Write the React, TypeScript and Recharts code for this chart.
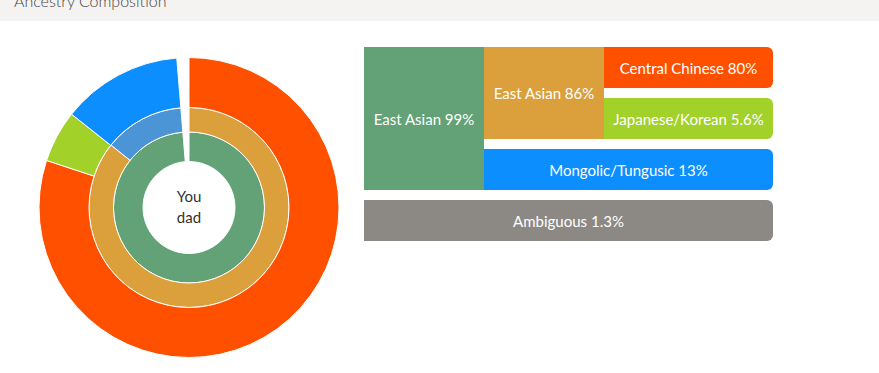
import React from 'react';
import { PieChart, Pie, Cell } from 'recharts';

// rings, inner to outer
const innerNames = ['East Asian', 'Ambiguous'];
const innerValues = [99, 1.3];
const middleNames = ['East Asian', 'Mongolic/Tungusic', 'Ambiguous'];
const middleValues = [86, 13, 1.3];
const outerNames = ['Central Chinese', 'Japanese/Korean', 'Mongolic/Tungusic', 'Ambiguous'];
const outerValues = [80, 5.6, 13, 1.3];

const innerColors = ['#62a276', 'none'];
const middleColors = ['#dba03c', '#4b95d7', 'none'];
const outerColors = ['#ff5000', '#a2d12a', '#0d8eff', 'none'];

const centerLines = ['You', 'dad'];

// breakdown boxes on the right
const boxNames = ['East Asian', 'East Asian', 'Central Chinese', 'Japanese/Korean', 'Mongolic/Tungusic', 'Ambiguous'];
const boxValues = ['99%', '86%', '80%', '5.6%', '13%', '1.3%'];
const boxColors = ['#62a276', '#dba03c', '#ff5000', '#a2d12a', '#0d8eff', '#8c8985'];

const toData = (names: string[], values: number[]) =>
  names.map((name, i) => ({ name, value: values[i] }));

const FONT = 'Lato, "Open Sans", sans-serif';
const CX = 189;
const CY = 207.5;

// grid for the boxes: col starts, rows of 41px with 10px gaps
const colX = [364, 484, 604, 773];
const rowY = (r: number) => 47 + r * 51;
const spanH = (k: number) => k * 41 + (k - 1) * 10;
// [col, row, colSpan, rowSpan] per box
const boxGrid = [
  [0, 0, 1, 3],
  [1, 0, 1, 2],
  [2, 0, 1, 1],
  [2, 1, 1, 1],
  [1, 2, 2, 1],
  [0, 3, 3, 1],
];

function Ring({ names, values, colors, inner, outer }: any) {
  return (
    <Pie
      data={toData(names, values)}
      dataKey="value"
      cx={CX}
      cy={CY}
      innerRadius={inner}
      outerRadius={outer}
      startAngle={90}
      endAngle={-270}
      stroke="#fff"
      strokeWidth={1}
      isAnimationActive={false}
    >
      {colors.map((c: string, i: number) => (
        <Cell key={i} fill={c} stroke={c === 'none' ? 'none' : '#fff'} />
      ))}
    </Pie>
  );
}

export default function App() {
  return (
    <div style={{ position: 'absolute', left: 0, top: 0, width: 879, height: 373, background: '#fff', overflow: 'hidden', fontFamily: FONT }}>
      <div style={{ position: 'absolute', left: 0, top: 0, width: 879, height: 21, background: '#f4f3f1' }} />
      <div style={{ position: 'absolute', left: 14, top: -7, fontSize: 16, lineHeight: '16px', fontWeight: 300, color: '#444', whiteSpace: 'nowrap' }}>
        Ancestry Composition
      </div>

      <div style={{ position: 'absolute', left: 0, top: 0 }}>
        <PieChart width={360} height={373} margin={{ top: 0, right: 0, bottom: 0, left: 0 }}>
          {Ring({ names: innerNames, values: innerValues, colors: innerColors, inner: 46, outer: 75.5 })}
          {Ring({ names: middleNames, values: middleValues, colors: middleColors, inner: 75.5, outer: 100 })}
          {Ring({ names: outerNames, values: outerValues, colors: outerColors, inner: 100, outer: 150 })}
        </PieChart>
      </div>

      <div
        style={{
          position: 'absolute',
          left: CX - 40,
          top: CY - 22,
          width: 80,
          textAlign: 'center',
          fontSize: 15,
          lineHeight: '21px',
          color: '#333',
        }}
      >
        {centerLines.map((t) => (
          <div key={t}>{t}</div>
        ))}
      </div>

      {boxNames.map((name, i) => {
        const [col, row, cs, rs] = boxGrid[i];
        const left = colX[col];
        const right = colX[col + cs];
        const lastCol = col + cs === colX.length - 1;
        return (
          <div
            key={i}
            style={{
              position: 'absolute',
              left,
              top: rowY(row),
              width: right - left,
              height: spanH(rs),
              background: boxColors[i],
              borderRadius: lastCol ? '0 6px 6px 0' : 0,
              color: '#fff',
              fontSize: 15,
              display: 'flex',
              alignItems: 'center',
              justifyContent: 'center',
              whiteSpace: 'nowrap',
            }}
          >
            {name} {boxValues[i]}
          </div>
        );
      })}
    </div>
  );
}
